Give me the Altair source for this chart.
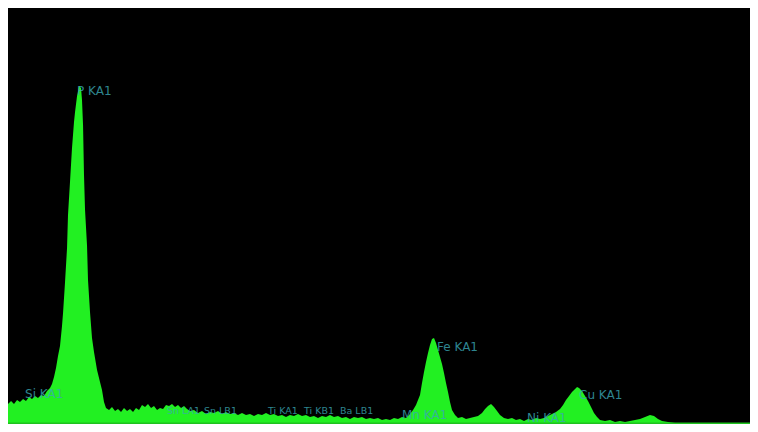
import altair as alt
import pandas as pd

# EDS spectrum: energy (keV) and counts
energy = [1.100, 1.138, 1.175, 1.213, 1.250, 1.288, 1.325, 1.363, 1.400, 1.438,
          1.475, 1.513, 1.550, 1.588, 1.625, 1.650, 1.675, 1.700, 1.725, 1.750,
          1.775, 1.788, 1.813, 1.838, 1.850, 1.875, 1.900, 1.925, 1.938, 1.963,
          1.988, 2.013, 2.025, 2.038, 2.050, 2.063, 2.088, 2.100, 2.125, 2.150,
          2.175, 2.213, 2.250, 2.275, 2.300, 2.325, 2.363, 2.400, 2.438, 2.475,
          2.513, 2.550, 2.588, 2.625, 2.663, 2.700, 2.738, 2.775, 2.813, 2.850,
          2.888, 2.925, 2.963, 3.000, 3.038, 3.075, 3.113, 3.150, 3.188, 3.225,
          3.263, 3.300, 3.338, 3.375, 3.425, 3.475, 3.525, 3.575, 3.625, 3.675,
          3.725, 3.775, 3.825, 3.875, 3.925, 3.975, 4.025, 4.075, 4.125, 4.175,
          4.225, 4.275, 4.325, 4.375, 4.425, 4.475, 4.525, 4.575, 4.625, 4.675,
          4.725, 4.775, 4.825, 4.875, 4.925, 4.975, 5.025, 5.075, 5.125, 5.175,
          5.225, 5.275, 5.325, 5.375, 5.425, 5.475, 5.525, 5.575, 5.625, 5.675,
          5.725, 5.775, 5.825, 5.875, 5.925, 5.975, 6.025, 6.075, 6.125, 6.163,
          6.200, 6.225, 6.250, 6.275, 6.300, 6.325, 6.350, 6.375, 6.400, 6.425,
          6.450, 6.475, 6.500, 6.525, 6.550, 6.575, 6.600, 6.625, 6.650, 6.688,
          6.725, 6.775, 6.825, 6.875, 6.925, 6.975, 7.025, 7.063, 7.100, 7.138,
          7.175, 7.213, 7.250, 7.300, 7.350, 7.400, 7.450, 7.500, 7.550, 7.600,
          7.650, 7.700, 7.750, 7.800, 7.850, 7.900, 7.950, 8.000, 8.038, 8.075,
          8.113, 8.150, 8.188, 8.213, 8.238, 8.275, 8.313, 8.350, 8.388, 8.425,
          8.463, 8.500, 8.563, 8.625, 8.688, 8.750, 8.813, 8.875, 8.938, 9.000,
          9.063, 9.125, 9.175, 9.225, 9.275, 9.350, 9.438, 9.525, 9.625, 9.725,
          9.825, 9.925, 10.025, 10.125, 10.225, 10.325, 10.425, 10.475]

counts = [280, 310, 280, 320, 300, 330, 310, 350, 330, 360,
          340, 370, 360, 410, 440, 480, 550, 640, 760, 860,
          1060, 1190, 1500, 1840, 2170, 2500, 2840, 3100, 3200, 3360,
          3460, 3440, 3320, 3070, 2570, 2220, 1860, 1520, 1200, 940,
          800, 620, 500, 420, 300, 240, 220, 250, 210, 230,
          200, 240, 210, 230, 200, 240, 220, 270, 250, 280,
          240, 260, 220, 240, 230, 270, 260, 280, 250, 270,
          240, 260, 230, 210, 220, 190, 210, 180, 200, 190,
          210, 180, 200, 180, 190, 170, 190, 170, 180, 160,
          180, 170, 190, 170, 180, 160, 170, 150, 170, 160,
          180, 160, 170, 150, 160, 140, 160, 150, 170, 150,
          160, 140, 150, 130, 150, 140, 150, 130, 140, 130,
          140, 120, 130, 120, 140, 130, 150, 140, 180, 220,
          270, 320, 370, 490, 600, 700, 790, 870, 930, 940,
          890, 820, 750, 680, 590, 490, 400, 300, 220, 170,
          140, 150, 130, 140, 150, 160, 190, 230, 260, 280,
          250, 210, 170, 140, 130, 140, 120, 130, 110, 130,
          120, 140, 130, 140, 160, 180, 200, 230, 270, 320,
          360, 400, 430, 450, 440, 410, 360, 310, 250, 190,
          150, 120, 110, 120, 100, 110, 100, 110, 120, 130,
          150, 170, 160, 130, 110, 100, 90, 80, 90, 80,
          70, 80, 70, 80, 70, 80, 70, 70]

# Main peak labels: text, anchor energy, anchor counts
label_text = ["P KA1", "Si KA1", "Mn KA1", "Fe KA1", "Ni KA1", "Cu KA1"]
label_energy = [1.963, 1.313, 6.025, 6.463, 7.588, 8.238]
label_counts = [3410, 380, 170, 850, 140, 370]

# Crowded low-energy labels
small_text = ["Sn LA1", "Sn LB1", "Ti KA1", "Ti KB1", "Ba LB1"]
small_energy = [3.088, 3.550, 4.350, 4.800, 5.250]
small_counts = [210, 210, 210, 210, 210]

spec = pd.DataFrame({"energy": energy, "counts": counts})
labels = pd.DataFrame({"text": label_text, "energy": label_energy, "counts": label_counts})
small = pd.DataFrame({"text": small_text, "energy": small_energy, "counts": small_counts})

xs = alt.Scale(domain=[1.1, 10.375], nice=False, zero=False)
ys = alt.Scale(domain=[80, 4240], nice=False, zero=False)

area = alt.Chart(spec).mark_area(
    color="#22f022", interpolate="linear", clip=True
).encode(
    x=alt.X("energy:Q", scale=xs, axis=None),
    y=alt.Y("counts:Q", scale=ys, axis=None),
    y2=alt.datum(80),
)

base_line = alt.Chart(pd.DataFrame({"c": [80]})).mark_rule(
    color="#1fc21f", strokeWidth=3
).encode(y=alt.Y("c:Q", scale=ys, axis=None))

text = alt.Chart(labels).mark_text(
    align="left", baseline="middle", fontSize=12, font="DejaVu Sans",
    color="#3aa7b4", opacity=0.8
).encode(
    x=alt.X("energy:Q", scale=xs, axis=None),
    y=alt.Y("counts:Q", scale=ys, axis=None),
    text="text:N",
)

text_small = alt.Chart(small).mark_text(
    align="left", baseline="middle", fontSize=9.5, font="DejaVu Sans",
    color="#3aa7b4", opacity=0.8
).encode(
    x=alt.X("energy:Q", scale=xs, axis=None),
    y=alt.Y("counts:Q", scale=ys, axis=None),
    text="text:N",
)

chart = alt.layer(area, base_line, text, text_small).properties(
    width=742, height=416, background="black", padding=0,
    autosize=alt.AutoSizeParams(type="none"),
).configure_view(stroke=None, fill="black")

chart.save("out.html", embed_options={"renderer": "svg", "actions": False})
